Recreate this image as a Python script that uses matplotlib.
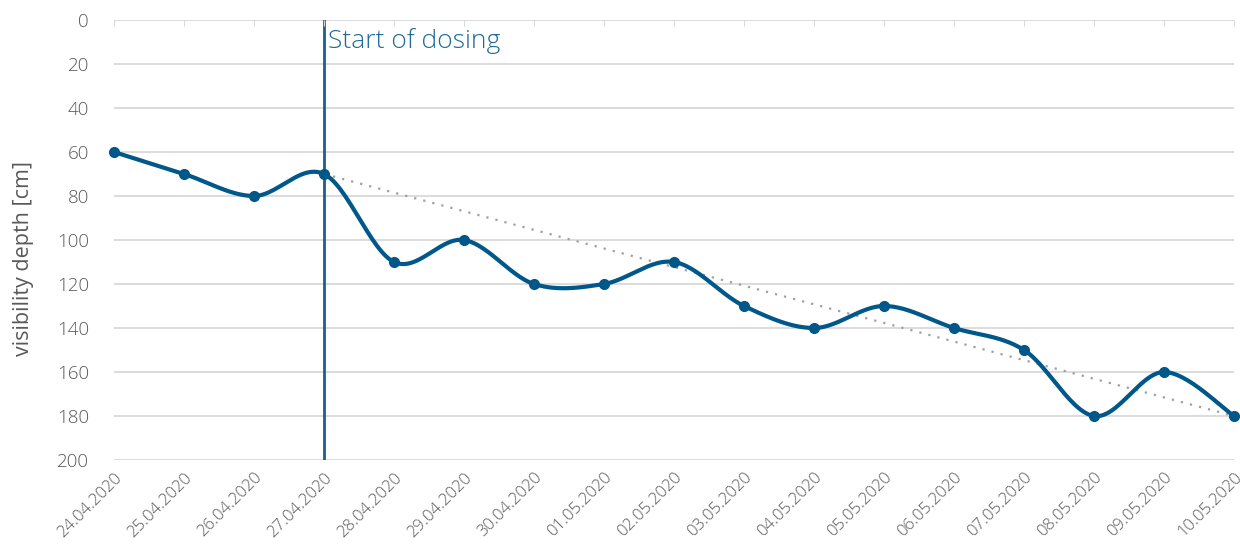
import numpy as np
import matplotlib.pyplot as plt
import matplotlib.transforms as mtransforms

dates = ['24.04.2020', '25.04.2020', '26.04.2020', '27.04.2020', '28.04.2020',
         '29.04.2020', '30.04.2020', '01.05.2020', '02.05.2020', '03.05.2020',
         '04.05.2020', '05.05.2020', '06.05.2020', '07.05.2020', '08.05.2020',
         '09.05.2020', '10.05.2020']
depth = [60, 70, 80, 70, 110, 100, 120, 120, 110, 130, 140, 130, 140, 150, 180, 160, 180]
dosing_start = '27.04.2020'
y_ticks = [0, 20, 40, 60, 80, 100, 120, 140, 160, 180, 200]

blue = '#00578A'
text_grey = '#595959'
plt.rcParams['font.family'] = ['Open Sans', 'DejaVu Sans']
plt.rcParams['font.weight'] = 'light'


def smooth(xs, ys, n=30):
    # Excel style smoothing: cubic bezier with catmull-rom control points
    xs = np.asarray(xs, float)
    ys = np.asarray(ys, float)
    px = np.concatenate([[xs[0]], xs, [xs[-1]]])
    py = np.concatenate([[ys[0]], ys, [ys[-1]]])
    outx, outy = [], []
    t = np.linspace(0, 1, n)
    for i in range(len(xs) - 1):
        p0 = np.array([px[i + 1], py[i + 1]])
        p3 = np.array([px[i + 2], py[i + 2]])
        c1 = p0 + (p3 - np.array([px[i], py[i]])) / 6
        c2 = p3 - (np.array([px[i + 3], py[i + 3]]) - p0) / 6
        b = ((1 - t) ** 3)[:, None] * p0 + (3 * (1 - t) ** 2 * t)[:, None] * c1 \
            + (3 * (1 - t) * t ** 2)[:, None] * c2 + (t ** 3)[:, None] * p3
        outx.extend(b[:, 0])
        outy.extend(b[:, 1])
    return np.array(outx), np.array(outy)


x = np.arange(len(dates))
fig = plt.figure(figsize=(12.4, 5.46), dpi=100)
ax = fig.add_axes([114 / 1240, 1 - 460 / 546, 1120 / 1240, 440 / 546])

for v in y_ticks:
    ax.axhline(v, color='#D9D9D9', lw=1.3, zorder=0)

i0 = dates.index(dosing_start)
ax.plot([x[i0], x[-1]], [depth[i0], depth[-1]], color='#A0A0A0', lw=1.6,
        linestyle=(0, (1, 3.2)), zorder=2)

sx, sy = smooth(x, depth)
ax.plot(sx, sy, color=blue, lw=3, zorder=3, clip_on=False)
ax.plot(x, depth, 'o', color=blue, ms=7, zorder=4, clip_on=False)

ax.axvline(x[i0], color='#1A5F8E', lw=2, zorder=1)
ax.text(x[i0] + 0.06, 9.5, 'Start of dosing', color='#1F6A9A', fontsize=19,
        va='center', ha='left')

ax.set_xlim(0, len(dates) - 1)
ax.set_ylim(200, 0)
ax.set_xticks(x)
ax.set_xticklabels(dates, rotation=45, ha='right', rotation_mode='anchor',
                   fontsize=12, color=text_grey)
# nudge date labels a little left so the last one stays inside the figure
shift = mtransforms.ScaledTranslation(-4 / 100, 0, fig.dpi_scale_trans)
for lbl in ax.get_xticklabels():
    lbl.set_transform(lbl.get_transform() + shift)
ax.set_yticks(y_ticks)
ax.tick_params(axis='y', length=0, pad=18, labelsize=13.5, labelcolor=text_grey)
ax.tick_params(axis='x', bottom=False, top=True, direction='in', length=4,
               color='#D9D9D9', pad=7)
for s in ax.spines.values():
    s.set_visible(False)
ax.set_ylabel('visibility depth [cm]', fontsize=15.5, color=text_grey)
ax.yaxis.set_label_coords(-0.071, 0.459)

fig.savefig('out.png', dpi=100)
